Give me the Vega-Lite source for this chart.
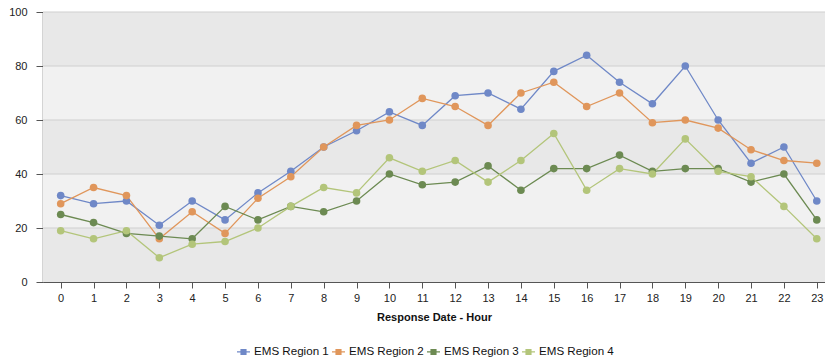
{
  "$schema": "https://vega.github.io/schema/vega-lite/v6.json",
  "width": 782,
  "height": 270,
  "autosize": {"type": "none"},
  "padding": {"left": 43, "top": 12, "right": 0, "bottom": 80},
  "background": "white",
  "config": {
    "view": {"stroke": null},
    "font": "Liberation Sans",
    "axis": {
      "labelFont": "Liberation Sans",
      "labelFontSize": 11,
      "labelColor": "#222222",
      "titleFont": "Liberation Sans",
      "titleColor": "#111111",
      "domainColor": "#555555",
      "tickColor": "#555555",
      "grid": false
    },
    "legend": {"labelFont": "Liberation Sans"}
  },
  "datasets": {
    "bands": [
      {"lo": 0, "hi": 20, "shade": "dark"},
      {"lo": 20, "hi": 40, "shade": "light"},
      {"lo": 40, "hi": 60, "shade": "dark"},
      {"lo": 60, "hi": 80, "shade": "light"},
      {"lo": 80, "hi": 100, "shade": "dark"}
    ],
    "hourly": [
      {"hour": 0, "region": "EMS Region 1", "calls": 32},
      {"hour": 1, "region": "EMS Region 1", "calls": 29},
      {"hour": 2, "region": "EMS Region 1", "calls": 30},
      {"hour": 3, "region": "EMS Region 1", "calls": 21},
      {"hour": 4, "region": "EMS Region 1", "calls": 30},
      {"hour": 5, "region": "EMS Region 1", "calls": 23},
      {"hour": 6, "region": "EMS Region 1", "calls": 33},
      {"hour": 7, "region": "EMS Region 1", "calls": 41},
      {"hour": 8, "region": "EMS Region 1", "calls": 50},
      {"hour": 9, "region": "EMS Region 1", "calls": 56},
      {"hour": 10, "region": "EMS Region 1", "calls": 63},
      {"hour": 11, "region": "EMS Region 1", "calls": 58},
      {"hour": 12, "region": "EMS Region 1", "calls": 69},
      {"hour": 13, "region": "EMS Region 1", "calls": 70},
      {"hour": 14, "region": "EMS Region 1", "calls": 64},
      {"hour": 15, "region": "EMS Region 1", "calls": 78},
      {"hour": 16, "region": "EMS Region 1", "calls": 84},
      {"hour": 17, "region": "EMS Region 1", "calls": 74},
      {"hour": 18, "region": "EMS Region 1", "calls": 66},
      {"hour": 19, "region": "EMS Region 1", "calls": 80},
      {"hour": 20, "region": "EMS Region 1", "calls": 60},
      {"hour": 21, "region": "EMS Region 1", "calls": 44},
      {"hour": 22, "region": "EMS Region 1", "calls": 50},
      {"hour": 23, "region": "EMS Region 1", "calls": 30},
      {"hour": 0, "region": "EMS Region 2", "calls": 29},
      {"hour": 1, "region": "EMS Region 2", "calls": 35},
      {"hour": 2, "region": "EMS Region 2", "calls": 32},
      {"hour": 3, "region": "EMS Region 2", "calls": 16},
      {"hour": 4, "region": "EMS Region 2", "calls": 26},
      {"hour": 5, "region": "EMS Region 2", "calls": 18},
      {"hour": 6, "region": "EMS Region 2", "calls": 31},
      {"hour": 7, "region": "EMS Region 2", "calls": 39},
      {"hour": 8, "region": "EMS Region 2", "calls": 50},
      {"hour": 9, "region": "EMS Region 2", "calls": 58},
      {"hour": 10, "region": "EMS Region 2", "calls": 60},
      {"hour": 11, "region": "EMS Region 2", "calls": 68},
      {"hour": 12, "region": "EMS Region 2", "calls": 65},
      {"hour": 13, "region": "EMS Region 2", "calls": 58},
      {"hour": 14, "region": "EMS Region 2", "calls": 70},
      {"hour": 15, "region": "EMS Region 2", "calls": 74},
      {"hour": 16, "region": "EMS Region 2", "calls": 65},
      {"hour": 17, "region": "EMS Region 2", "calls": 70},
      {"hour": 18, "region": "EMS Region 2", "calls": 59},
      {"hour": 19, "region": "EMS Region 2", "calls": 60},
      {"hour": 20, "region": "EMS Region 2", "calls": 57},
      {"hour": 21, "region": "EMS Region 2", "calls": 49},
      {"hour": 22, "region": "EMS Region 2", "calls": 45},
      {"hour": 23, "region": "EMS Region 2", "calls": 44},
      {"hour": 0, "region": "EMS Region 3", "calls": 25},
      {"hour": 1, "region": "EMS Region 3", "calls": 22},
      {"hour": 2, "region": "EMS Region 3", "calls": 18},
      {"hour": 3, "region": "EMS Region 3", "calls": 17},
      {"hour": 4, "region": "EMS Region 3", "calls": 16},
      {"hour": 5, "region": "EMS Region 3", "calls": 28},
      {"hour": 6, "region": "EMS Region 3", "calls": 23},
      {"hour": 7, "region": "EMS Region 3", "calls": 28},
      {"hour": 8, "region": "EMS Region 3", "calls": 26},
      {"hour": 9, "region": "EMS Region 3", "calls": 30},
      {"hour": 10, "region": "EMS Region 3", "calls": 40},
      {"hour": 11, "region": "EMS Region 3", "calls": 36},
      {"hour": 12, "region": "EMS Region 3", "calls": 37},
      {"hour": 13, "region": "EMS Region 3", "calls": 43},
      {"hour": 14, "region": "EMS Region 3", "calls": 34},
      {"hour": 15, "region": "EMS Region 3", "calls": 42},
      {"hour": 16, "region": "EMS Region 3", "calls": 42},
      {"hour": 17, "region": "EMS Region 3", "calls": 47},
      {"hour": 18, "region": "EMS Region 3", "calls": 41},
      {"hour": 19, "region": "EMS Region 3", "calls": 42},
      {"hour": 20, "region": "EMS Region 3", "calls": 42},
      {"hour": 21, "region": "EMS Region 3", "calls": 37},
      {"hour": 22, "region": "EMS Region 3", "calls": 40},
      {"hour": 23, "region": "EMS Region 3", "calls": 23},
      {"hour": 0, "region": "EMS Region 4", "calls": 19},
      {"hour": 1, "region": "EMS Region 4", "calls": 16},
      {"hour": 2, "region": "EMS Region 4", "calls": 19},
      {"hour": 3, "region": "EMS Region 4", "calls": 9},
      {"hour": 4, "region": "EMS Region 4", "calls": 14},
      {"hour": 5, "region": "EMS Region 4", "calls": 15},
      {"hour": 6, "region": "EMS Region 4", "calls": 20},
      {"hour": 7, "region": "EMS Region 4", "calls": 28},
      {"hour": 8, "region": "EMS Region 4", "calls": 35},
      {"hour": 9, "region": "EMS Region 4", "calls": 33},
      {"hour": 10, "region": "EMS Region 4", "calls": 46},
      {"hour": 11, "region": "EMS Region 4", "calls": 41},
      {"hour": 12, "region": "EMS Region 4", "calls": 45},
      {"hour": 13, "region": "EMS Region 4", "calls": 37},
      {"hour": 14, "region": "EMS Region 4", "calls": 45},
      {"hour": 15, "region": "EMS Region 4", "calls": 55},
      {"hour": 16, "region": "EMS Region 4", "calls": 34},
      {"hour": 17, "region": "EMS Region 4", "calls": 42},
      {"hour": 18, "region": "EMS Region 4", "calls": 40},
      {"hour": 19, "region": "EMS Region 4", "calls": 53},
      {"hour": 20, "region": "EMS Region 4", "calls": 41},
      {"hour": 21, "region": "EMS Region 4", "calls": 39},
      {"hour": 22, "region": "EMS Region 4", "calls": 28},
      {"hour": 23, "region": "EMS Region 4", "calls": 16}
    ]
  },
  "layer": [
    {
      "data": {"name": "bands"},
      "mark": {"type": "rect"},
      "encoding": {
        "y": {
          "field": "lo",
          "type": "quantitative",
          "scale": {"domain": [0, 100], "nice": false},
          "axis": {
            "title": null,
            "values": [0, 20, 40, 60, 80, 100],
            "tickSize": 7,
            "labelPadding": 9,
            "domainWidth": 1.5
          }
        },
        "y2": {"field": "hi"},
        "fill": {
          "field": "shade",
          "type": "nominal",
          "scale": {"domain": ["dark", "light"], "range": ["#e8e8e8", "#f1f1f1"]},
          "legend": null
        }
      }
    },
    {
      "data": {"name": "bands"},
      "mark": {"type": "rule", "color": "#cfcfcf", "strokeWidth": 1.2},
      "encoding": {
        "y": {"field": "hi", "type": "quantitative"}
      }
    },
    {
      "data": {"name": "hourly"},
      "encoding": {
        "x": {
          "field": "hour",
          "type": "quantitative",
          "scale": {"domain": [-0.538, 23.25], "nice": false, "zero": false},
          "axis": {
            "title": "Response Date - Hour",
            "titleFontSize": 11,
            "titleFontWeight": "bold",
            "titlePadding": 8,
            "values": [0, 1, 2, 3, 4, 5, 6, 7, 8, 9, 10, 11, 12, 13, 14, 15, 16, 17, 18, 19, 20, 21, 22, 23],
            "format": "d",
            "tickSize": 6,
            "labelPadding": 4,
            "domainWidth": 1.2
          }
        },
        "y": {"field": "calls", "type": "quantitative"},
        "color": {
          "field": "region",
          "type": "nominal",
          "scale": {
            "domain": ["EMS Region 1", "EMS Region 2", "EMS Region 3", "EMS Region 4"],
            "range": ["#6f88c7", "#e0965b", "#6c8a52", "#b3c57a"]
          },
          "legend": {
            "title": null,
            "orient": "none",
            "direction": "horizontal",
            "legendX": 193,
            "legendY": 332,
            "symbolType": "M-1,0H1M-0.38,-0.38H0.38V0.38H-0.38Z",
            "symbolSize": 169,
            "symbolStrokeWidth": 1.2,
            "labelFontSize": 11.6,
            "labelColor": "#111111",
            "labelOffset": 3,
            "columnPadding": 0
          }
        }
      },
      "layer": [
        {"mark": {"type": "line", "strokeWidth": 1.3}},
        {"mark": {"type": "point", "filled": true, "shape": "circle", "size": 58, "opacity": 1}}
      ]
    }
  ]
}
